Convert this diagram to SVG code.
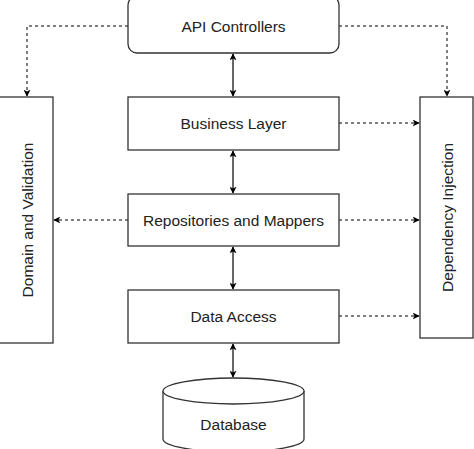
<svg xmlns="http://www.w3.org/2000/svg" width="474" height="449" viewBox="0 0 474 449">
<defs>
<style>
.box{fill:#fff;stroke:#333;stroke-width:1.3}
.t{font-family:"Liberation Sans",Arial,sans-serif;font-size:15.5px;fill:#222;text-anchor:middle;dominant-baseline:central}
.solid{fill:none;stroke:#000;stroke-width:1.2}
.dot{fill:none;stroke:#000;stroke-width:1;stroke-dasharray:3 3}
</style>
<marker id="ah" viewBox="0 0 10 10" refX="9" refY="5" markerWidth="7" markerHeight="7" orient="auto-start-reverse" markerUnits="userSpaceOnUse">
<path d="M0,0 L10,5 L0,10 L2.5,5 z" fill="#000"/>
</marker>
</defs>
<rect width="474" height="449" fill="#fff"/>
<g id="connectors">
<path class="solid" d="M233,54 V96" marker-start="url(#ah)" marker-end="url(#ah)"/>
<path class="solid" d="M233,151 V193" marker-start="url(#ah)" marker-end="url(#ah)"/>
<path class="solid" d="M233,247 V289" marker-start="url(#ah)" marker-end="url(#ah)"/>
<path class="solid" d="M233,344 V377" marker-start="url(#ah)" marker-end="url(#ah)"/>
<path class="dot" d="M128,26 H27 V96" marker-end="url(#ah)"/>
<path class="dot" d="M339,26 H447 V96" marker-end="url(#ah)"/>
<path class="dot" d="M339,123 H419" marker-end="url(#ah)"/>
<path class="dot" d="M128,220 H54" marker-end="url(#ah)"/>
<path class="dot" d="M339,220 H419" marker-end="url(#ah)"/>
<path class="dot" d="M339,316 H419" marker-end="url(#ah)"/>
</g>
<g id="api">
<rect class="box" x="128" y="-4" width="211" height="57" rx="9"/>
<text class="t" x="233.5" y="26">API Controllers</text>
</g>
<g id="business">
<rect class="box" x="128" y="97" width="211" height="53"/>
<text class="t" x="233.5" y="123">Business Layer</text>
</g>
<g id="repos">
<rect class="box" x="128" y="194" width="211" height="52"/>
<text class="t" x="233.5" y="220">Repositories and Mappers</text>
</g>
<g id="data">
<rect class="box" x="128" y="290" width="211" height="53"/>
<text class="t" x="233.5" y="316">Data Access</text>
</g>
<g id="database">
<path class="box" d="M163,391 a70.5,13 0 0 1 141,0 v48 a70.5,13 0 0 1 -141,0 z"/>
<path class="box" d="M163,391 a70.5,13 0 0 0 141,0" fill="none"/>
<text class="t" x="233.5" y="424">Database</text>
</g>
<g id="domain">
<rect class="box" x="-2" y="97" width="55" height="246"/>
<text class="t" transform="translate(27,220) rotate(-90)">Domain and Validation</text>
</g>
<g id="di">
<rect class="box" x="420" y="97" width="53" height="241"/>
<text class="t" transform="translate(447,217.5) rotate(-90)">Dependency Injection</text>
</g>
</svg>
